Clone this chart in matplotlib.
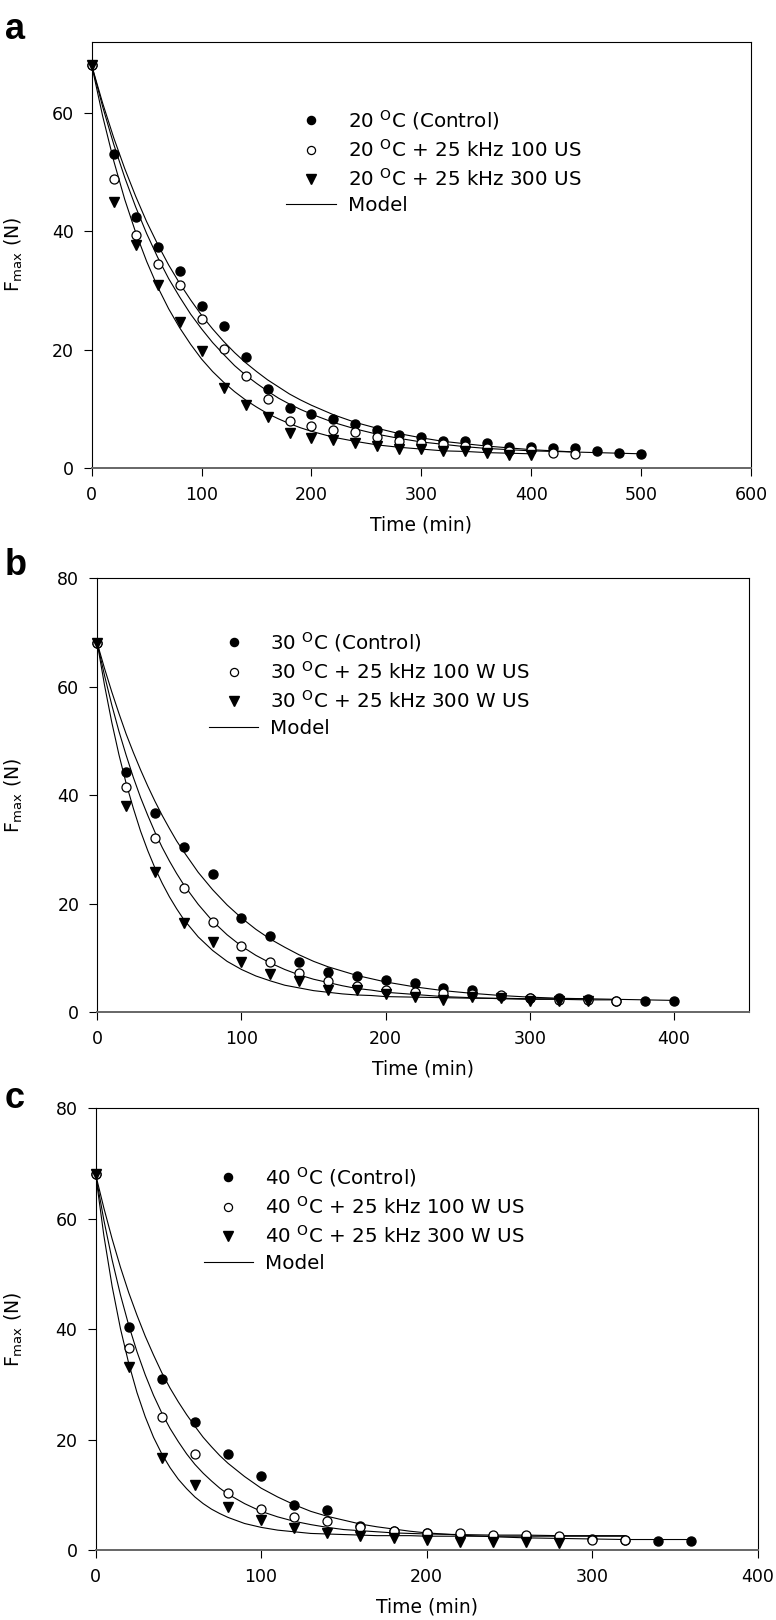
"""Texture decay F_max vs time, three temperatures with/without ultrasound"""
import matplotlib
matplotlib.use("Agg")
import matplotlib.pyplot as plt

plt.rcParams['font.family'] = ['DejaVu Sans']
plt.rcParams['mathtext.fontset'] = 'dejavusans'

# ---------------- panel a : 20 C ----------------
t_a_ctrl = list(range(0, 501, 20))
t_a_100 = list(range(0, 441, 20))
t_a_300 = list(range(0, 401, 20))
f_a_ctrl = [68.0, 53.1, 42.4, 37.4, 33.2, 27.4, 24.0, 18.7, 13.3, 10.1, 9.2, 8.2, 7.4,
            6.5, 5.5, 5.2, 4.6, 4.5, 4.2, 3.6, 3.5, 3.4, 3.3, 2.9, 2.6, 2.3]
f_a_100 = [68.0, 48.9, 39.3, 34.5, 31.0, 25.2, 20.1, 15.6, 11.6, 8.0, 7.1, 6.4, 6.0,
           5.2, 4.5, 4.3, 4.1, 3.7, 3.3, 2.9, 3.0, 2.6, 2.4]
f_a_300 = [68.0, 45.0, 37.7, 31.0, 24.6, 19.8, 13.5, 10.7, 8.7, 5.9, 5.0, 4.7, 4.3,
           3.7, 3.2, 3.2, 2.8, 2.8, 2.5, 2.2, 2.2]
# model curves
tm_a = list(range(0, 201, 10)) + list(range(220, 501, 20))
m_a_ctrl = [68.0, 61.6, 55.8, 50.6, 45.9, 41.6, 37.8, 34.3, 31.2, 28.4, 25.8, 23.5, 21.4,
            19.5, 17.8, 16.3, 14.9, 13.7, 12.5, 11.5, 10.6,
            9.0, 7.7, 6.7, 5.8, 5.1, 4.5, 4.1, 3.7, 3.4, 3.1, 2.9, 2.7, 2.6, 2.5, 2.4]
m_a_100 = [68.0, 61.0, 54.7, 49.1, 44.1, 39.6, 35.6, 32.0, 28.9, 26.0, 23.5, 21.2, 19.2,
           17.3, 15.7, 14.3, 13.0, 11.8, 10.8, 9.9, 9.1,
           7.7, 6.6, 5.7, 5.0, 4.4, 4.0, 3.6, 3.3, 3.1, 2.9, 2.8, 2.7]
m_a_300 = [68.0, 59.4, 51.9, 45.4, 39.8, 34.9, 30.6, 26.9, 23.7, 20.9, 18.4, 16.3, 14.5,
           12.9, 11.5, 10.3, 9.2, 8.3, 7.5, 6.8, 6.2,
           5.2, 4.5, 3.9, 3.5, 3.2, 2.9, 2.8, 2.6, 2.5, 2.4]
lab_a = ['20 $^{\\mathrm{O}}$C (Control)', '20 $^{\\mathrm{O}}$C + 25 kHz 100 US',
         '20 $^{\\mathrm{O}}$C + 25 kHz 300 US', 'Model']

# ---------------- panel b : 30 C ----------------
t_b_ctrl = list(range(0, 401, 20))
t_b_100 = list(range(0, 361, 20))
t_b_300 = list(range(0, 341, 20))
f_b_ctrl = [68.0, 44.3, 36.7, 30.4, 25.5, 17.4, 14.1, 9.3, 7.5, 6.7, 6.0, 5.5, 4.4,
            4.2, 3.1, 2.6, 2.6, 2.4, 2.1, 2.1, 2.1]
f_b_100 = [68.0, 41.5, 32.1, 22.9, 16.6, 12.2, 9.2, 7.2, 5.8, 4.9, 4.1, 3.7, 3.5,
           3.3, 3.2, 2.6, 2.3, 2.3, 2.1]
f_b_300 = [68.0, 38.1, 25.8, 16.4, 12.9, 9.2, 7.1, 5.8, 4.2, 4.1, 3.3, 2.8, 2.3,
           2.9, 2.6, 2.1, 2.0, 2.0]
tm_b = list(range(0, 61, 5)) + list(range(70, 201, 10)) + list(range(220, 401, 20))
m_b_ctrl = [68.0, 63.4, 59.1, 55.1, 51.3, 47.9, 44.7, 41.7, 38.9, 36.3, 33.9, 31.6, 29.6,
            25.8, 22.6, 19.8, 17.4, 15.3, 13.5, 12.0, 10.6, 9.4, 8.4, 7.6, 6.8, 6.2, 5.6,
            4.7, 4.0, 3.5, 3.1, 2.8, 2.6, 2.5, 2.4, 2.3, 2.2]
m_b_100 = [68.0, 62.1, 56.7, 51.8, 47.4, 43.3, 39.6, 36.3, 33.2, 30.4, 27.9, 25.6, 23.5,
           19.9, 16.8, 14.3, 12.2, 10.5, 9.1, 7.9, 6.9, 6.1, 5.5, 4.9, 4.4, 4.1, 3.7,
           3.3, 2.9, 2.7, 2.5, 2.4, 2.4, 2.3, 2.3]
m_b_300 = [68.0, 60.3, 53.5, 47.5, 42.2, 37.6, 33.4, 29.8, 26.6, 23.8, 21.3, 19.1, 17.1,
           13.9, 11.4, 9.4, 7.9, 6.7, 5.8, 5.0, 4.5, 4.0, 3.7, 3.4, 3.2, 3.1, 2.9,
           2.8, 2.7, 2.6, 2.6, 2.5, 2.5, 2.5]
lab_b = ['30 $^{\\mathrm{O}}$C (Control)', '30 $^{\\mathrm{O}}$C + 25 kHz 100 W US',
         '30 $^{\\mathrm{O}}$C + 25 kHz 300 W US', 'Model']

# ---------------- panel c : 40 C ----------------
t_c_ctrl = list(range(0, 361, 20))
t_c_100 = list(range(0, 321, 20))
t_c_300 = list(range(0, 281, 20))
f_c_ctrl = [68.0, 40.4, 31.0, 23.2, 17.4, 13.4, 8.1, 7.2, 4.4, 3.5, 3.0, 2.8, 2.6,
            2.5, 2.4, 2.0, 1.9, 1.7, 1.7]
f_c_100 = [68.0, 36.5, 24.0, 17.4, 10.4, 7.4, 6.0, 5.2, 4.2, 3.4, 3.0, 3.0, 2.8,
           2.7, 2.5, 1.8, 1.8]
f_c_300 = [68.0, 33.1, 16.7, 11.8, 7.8, 5.4, 4.0, 3.0, 2.5, 2.1, 1.9, 1.5, 1.5, 1.4, 1.3]
tm_c = list(range(0, 81, 5)) + list(range(90, 201, 10)) + list(range(220, 361, 20))
m_c_ctrl = [68.0, 61.9, 56.3, 51.2, 46.6, 42.5, 38.7, 35.3, 32.1, 29.3, 26.8, 24.5, 22.4,
            20.4, 18.7, 17.1, 15.7,
            13.3, 11.2, 9.6, 8.2, 7.0, 6.1, 5.4, 4.7, 4.2, 3.8, 3.4, 3.1,
            2.7, 2.4, 2.2, 2.1, 2.0, 1.9, 1.9, 1.9]
m_c_100 = [68.0, 59.7, 52.5, 46.2, 40.7, 35.9, 31.7, 28.0, 24.8, 22.0, 19.6, 17.4, 15.5,
           13.9, 12.5, 11.2, 10.1,
           8.4, 7.0, 6.0, 5.2, 4.6, 4.1, 3.7, 3.5, 3.3, 3.1, 3.0, 2.9,
           2.8, 2.7, 2.7, 2.6, 2.6, 2.6]
m_c_300 = [68.0, 56.9, 47.7, 40.1, 33.8, 28.5, 24.1, 20.4, 17.4, 14.9, 12.8, 11.1, 9.6,
           8.4, 7.4, 6.6, 5.9,
           4.8, 4.1, 3.6, 3.3, 3.0, 2.9, 2.8, 2.7, 2.6, 2.6, 2.6, 2.5,
           2.5, 2.5, 2.5, 2.5, 2.5, 2.5]
lab_c = ['40 $^{\\mathrm{O}}$C (Control)', '40 $^{\\mathrm{O}}$C + 25 kHz 100 W US',
         '40 $^{\\mathrm{O}}$C + 25 kHz 300 W US', 'Model']


def panel(ax, pts, tm, models, labels, xmax, xticks, ymax, leg_xy, ylab_x):
    for tmod in models:
        ax.plot(tm[:len(tmod)], tmod, color='black', lw=0.8, zorder=2)
    (tc, fc), (t1, f1), (t3, f3) = pts
    h1, = ax.plot(tc, fc, 'o', ms=6.5, color='black', zorder=3, clip_on=False)
    h2, = ax.plot(t1, f1, 'o', ms=6.5, mfc='white', mec='black', mew=0.9, zorder=4, clip_on=False)
    h3, = ax.plot(t3, f3, 'v', ms=7.5, color='black', zorder=5, clip_on=False)
    h4, = ax.plot([], [], color='black', lw=0.8)
    ax.set_xlim(0, xmax)
    ax.set_ylim(0, ymax)
    ax.set_xticks(xticks)
    ax.set_yticks(range(0, int(ymax) + 1, 20))
    ax.tick_params(direction='out', length=6, width=0.8, top=False, right=False,
                   labelsize=12.5, pad=7)
    for s in ['top', 'right', 'left']:
        ax.spines[s].set_linewidth(0.8)
    ax.spines['bottom'].set_color('#666666')
    ax.spines['bottom'].set_linewidth(1.4)
    ax.set_xlabel('Time (min)', fontsize=13.5, labelpad=8)
    ax.set_ylabel('F$_{\\mathrm{max}}$ (N)', fontsize=13.5)
    ax.yaxis.set_label_coords(ylab_x, 0.5)
    ax.legend([h1, h2, h3, h4], labels, loc='upper left', bbox_to_anchor=leg_xy,
              frameon=False, fontsize=14.3, borderpad=0, borderaxespad=0,
              handlelength=2.5, handletextpad=0.6, labelspacing=0.35, markerscale=0.9)


fig = plt.figure(figsize=(7.76, 16.2), dpi=100)
ax_a = fig.add_axes([0.1182, 0.7111, 0.8496, 0.2631])
ax_b = fig.add_axes([0.1254, 0.3751, 0.8398, 0.2679])
ax_c = fig.add_axes([0.1232, 0.0432, 0.8532, 0.2728])

panel(ax_a, [(t_a_ctrl, f_a_ctrl), (t_a_100, f_a_100), (t_a_300, f_a_300)],
      tm_a, [m_a_ctrl, m_a_100, m_a_300], lab_a, 600, range(0, 601, 100), 72,
      (0.295, 0.845), -0.101)
panel(ax_b, [(t_b_ctrl, f_b_ctrl), (t_b_100, f_b_100), (t_b_300, f_b_300)],
      tm_b, [m_b_ctrl, m_b_100, m_b_300], lab_b, 452, range(0, 401, 100), 80,
      (0.171, 0.881), -0.111)
panel(ax_c, [(t_c_ctrl, f_c_ctrl), (t_c_100, f_c_100), (t_c_300, f_c_300)],
      tm_c, [m_c_ctrl, m_c_100, m_c_300], lab_c, 400, range(0, 401, 100), 80,
      (0.163, 0.871), -0.107)

fig.text(0.006, 0.9757, 'a', fontsize=26, fontweight='bold', family='Liberation Sans')
fig.text(0.006, 0.645, 'b', fontsize=26, fontweight='bold', family='Liberation Sans')
fig.text(0.006, 0.316, 'c', fontsize=26, fontweight='bold', family='Liberation Sans')

fig.savefig('out.png', dpi=100)
